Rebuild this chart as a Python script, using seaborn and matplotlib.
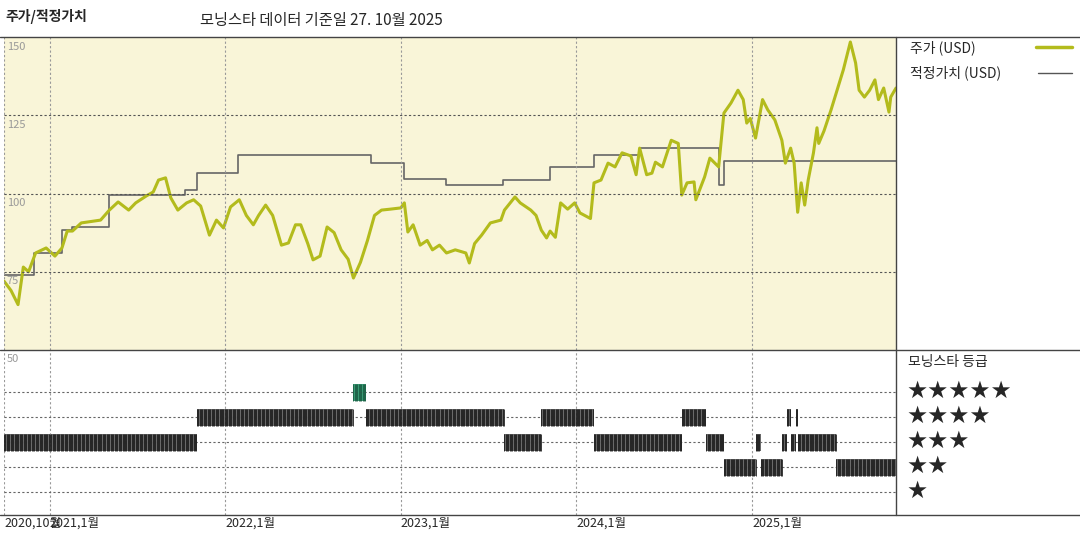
import numpy as np
import pandas as pd
import matplotlib
matplotlib.use("Agg")
import matplotlib.pyplot as plt
import seaborn as sns

sns.set_theme(style="white")
plt.rcParams['font.family'] = ['Noto Sans CJK KR', 'DejaVu Sans']

# ---- data (decimal years) ----
price_t = [2020.74,2020.78,2020.82,2020.85,2020.88,2020.92,2020.98,2021.03,2021.07,2021.10,2021.13,2021.18,2021.23,2021.29,
           2021.34,2021.39,2021.45,2021.49,2021.55,2021.59,2021.62,2021.66,2021.69,2021.73,2021.78,2021.82,2021.86,2021.91,
           2021.95,2021.99,2022.03,2022.08,2022.12,2022.16,2022.19,2022.23,2022.27,2022.32,2022.36,2022.40,2022.43,2022.47,
           2022.50,2022.54,2022.58,2022.62,2022.66,2022.70,2022.73,2022.77,2022.81,2022.85,2022.89,2022.94,2023.00,2023.02,
           2023.04,2023.07,2023.11,2023.15,2023.18,2023.22,2023.26,2023.31,2023.37,2023.39,2023.42,2023.46,2023.51,2023.57,
           2023.59,2023.65,2023.68,2023.74,2023.77,2023.80,2023.83,2023.85,2023.88,2023.91,2023.95,2023.99,2024.02,2024.08,
           2024.10,2024.14,2024.18,2024.22,2024.26,2024.31,2024.34,2024.36,2024.40,2024.43,2024.45,2024.49,2024.54,2024.58,
           2024.60,2024.63,2024.67,2024.68,2024.73,2024.76,2024.81,2024.84,2024.88,2024.92,2024.95,2024.97,2024.99,2025.02,
           2025.06,2025.09,2025.13,2025.17,2025.19,2025.22,2025.24,2025.26,2025.28,2025.30,2025.32,2025.35,2025.37,2025.38,
           2025.41,2025.45,2025.49,2025.52,2025.56,2025.59,2025.61,2025.64,2025.67,2025.70,2025.72,2025.75,2025.78,2025.79,2025.82]
price_v = [72,69,64.5,76.5,75,81,82.6,80,82.6,88,88,90.6,91,91.5,
           94.7,97.3,94.7,97,99.2,100.5,104.3,105,98.6,94.7,97,98,96,86.7,
           91.5,89,95.7,98,93,90,93,96.3,93,83.5,84.2,90,90,84,
           78.8,80,89.3,87.5,82,79,73,78,85,93,94.7,95,95.4,97,
           87.7,90,83.5,85,82,83.5,81,82,81,77.8,84,86.7,90.6,91.5,
           94.7,98.9,97,94.7,93,88.3,85.8,88,86,97,95,97,93.8,92,
           103.4,104.3,109.7,108.5,113,112,106,114.5,106,106.5,110,108.5,117,116,
           99.5,103.4,103.7,98,105.3,111.3,108.5,125.7,128.9,133,130,122.5,124,117.7,
           130,126.7,123.5,117,109.7,114.5,109.7,94,103.4,96.3,104.3,113,121,116,
           120,126.7,134,139.5,148.4,141.7,133,130.8,133,136.3,130,133.7,126,130.8,133.7]

fair_t = [2020.74,2020.91,2021.07,2021.13,2021.34,2021.77,2021.84,2022.07,2022.83,2023.02,2023.26,2023.58,2023.85,
          2024.10,2024.36,2024.81,2024.84,2025.82]
fair_v = [74,81,88.3,89.3,99.5,101,106.5,112.3,109.7,104.6,102.7,104.3,108.5,112.3,114.5,102.7,110.4,110.4]

rating_start = [2020.74,2021.84,2022.73,2022.80,2023.59,2023.80,2024.10,2024.60,2024.74,2024.84,2025.02,2025.05,
                2025.17,2025.20,2025.22,2025.25,2025.26,2025.48]
rating_end   = [2021.84,2022.73,2022.80,2023.59,2023.80,2024.10,2024.60,2024.74,2024.84,2025.02,2025.05,2025.17,
                2025.20,2025.22,2025.25,2025.26,2025.48,2025.82]
rating_stars = [3,4,5,4,3,4,3,4,3,2,3,2,3,4,3,4,3,2]

tick_years = [2020.74,2021,2022,2023,2024,2025]
tick_labels = ['2020,10월','2021,1월','2022,1월','2023,1월','2024,1월','2025,1월']
y_ticks = [150,125,100,75,50]

W, H = 1080, 540
fig = plt.figure(figsize=(10.8, 5.4), dpi=100)
def fx(x): return x / W
def fy(y): return 1 - y / H

xmin, xmax = 2020.74, 2025.82
green = '#b3bb1c'
ax1 = fig.add_axes([fx(4), fy(350), fx(892), 313 / H])
ax2 = fig.add_axes([fx(4), fy(515), fx(892), 165 / H])
ax1.set_facecolor('#f9f5d8')

sns.lineplot(x=fair_t, y=fair_v, ax=ax1, color='#666666', lw=1.2, drawstyle='steps-post')
sns.lineplot(x=price_t, y=price_v, ax=ax1, color=green, lw=2.2)
ax1.set_xlim(xmin, xmax)
ax1.set_ylim(50, 150)

for ax in (ax1, ax2):
    ax.set_xticks([]); ax.set_yticks([])
    ax.set_xlabel(''); ax.set_ylabel('')
    for s in ax.spines.values():
        s.set_visible(False)
    for yr in tick_years[1:]:
        ax.axvline(yr, color='#999999', lw=0.8, ls=(0, (2, 2)))
    ax.axvline(xmin + 0.002, color='#999999', lw=0.8, ls=(0, (2, 2)))

for v in [125, 100, 75]:
    ax1.axhline(v, color='#555555', lw=0.8, ls=(0, (2, 2)))
for v in y_ticks[:-1]:
    ax1.text(xmin + 0.015, v - 1.5, str(v), color='#999999', fontsize=8, va='top', ha='left')
ax2.text(xmin + 0.015, 6.5, str(y_ticks[-1]), color='#999999', fontsize=8, va='top', ha='left')

# ratings panel
ax2.set_xlim(xmin, xmax)
ax2.set_ylim(0.08, 6.68)
for s in range(1, 6):
    ax2.axhline(s, color='#666666', lw=0.8, ls=(0, (2, 2)))
for a, b, s in zip(rating_start, rating_end, rating_stars):
    col = '#3a9a74' if s == 5 else '#6a6a6a'
    ax2.barh(s, b - a, left=a, height=0.68, color=col, edgecolor='none')
    ticks = np.arange(a, b, 0.0075)
    ax2.vlines(ticks, s - 0.34, s + 0.34, color='#1a1a1a' if s != 5 else '#1a5e44', lw=0.6)

# frame lines
for y in (37, 350, 515):
    fig.add_artist(plt.Line2D([0, 1], [fy(y), fy(y)], color='#444444', lw=1))
fig.add_artist(plt.Line2D([fx(896), fx(896)], [fy(37), fy(515)], color='#444444', lw=1))

# texts
fig.text(fx(5), fy(17), '주가/적정가치', fontsize=10, fontweight='bold', va='center', ha='left')
fig.text(fx(200), fy(20), '모닝스타 데이터 기준일 27. 10월 2025', fontsize=11, va='center', ha='left')
fig.text(fx(910), fy(48), '주가 (USD)', fontsize=10, va='center', ha='left')
fig.add_artist(plt.Line2D([fx(1036), fx(1072)], [fy(47), fy(47)], color=green, lw=2.5))
fig.text(fx(910), fy(73), '적정가치 (USD)', fontsize=10, va='center', ha='left')
fig.add_artist(plt.Line2D([fx(1038), fx(1072)], [fy(73), fy(73)], color='#555555', lw=1))
fig.text(fx(908), fy(362), '모닝스타 등급', fontsize=10, va='center', ha='left')
for s in range(5, 0, -1):
    fig.text(fx(906), fy(391 + (5 - s) * 25), '★' * s, fontsize=17, va='center', ha='left',
             family=['DejaVu Sans'])

for yr, lab in zip(tick_years, tick_labels):
    xp = 4 + (yr - xmin) / (xmax - xmin) * 892
    fig.text(fx(xp), fy(523), lab, fontsize=9, va='center', ha='left')

fig.savefig('out.png', dpi=100)
